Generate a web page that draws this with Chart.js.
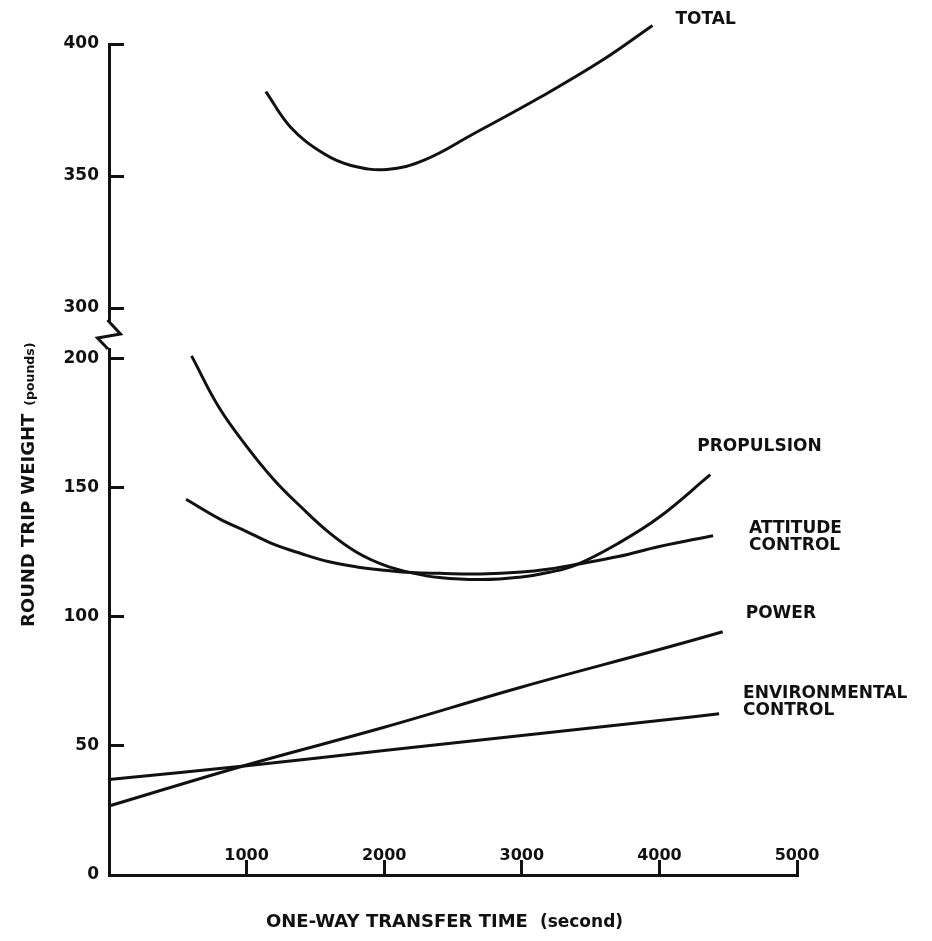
<!DOCTYPE html>
<html>
<head>
<meta charset="utf-8">
<script src="https://cdn.jsdelivr.net/npm/chart.js@4.4.1/dist/chart.umd.min.js"></script>
<style>
  html, body { margin: 0; padding: 0; background: #fff; }
</style>
</head>
<body>
<canvas id="weightChart" width="932" height="941"></canvas>
<script>
// Values (transfer time in seconds, weight in pounds)
const totalTime = [1140, 1320, 1560, 1760, 2020, 2290, 2650, 3140, 3590, 3950];
const totalWeight = [382, 368.5, 358.5, 354, 352.5, 356, 366, 380, 394, 407];

const propulsionTime = [600, 800, 1000, 1200, 1400, 1600, 1800, 2000, 2200, 2400, 2700, 3000, 3200, 3400, 3700, 4000, 4370];
const propulsionWeight = [201, 181, 166, 153, 142.3, 132.6, 125, 120, 117, 115.2, 114.4, 115.4, 117.2, 120.2, 128.4, 138.6, 155];

const attitudeTime = [560, 800, 1000, 1200, 1400, 1600, 1800, 2000, 2200, 2400, 2700, 3000, 3200, 3400, 3700, 4000, 4390];
const attitudeWeight = [145.5, 138, 133, 128, 124.4, 121.3, 119.3, 118, 117.1, 116.8, 116.6, 117.3, 118.5, 120.3, 123.3, 127.2, 131.4];

const powerTime = [0, 1000, 2000, 3000, 4000, 4460];
const powerWeight = [26.7, 42.6, 57.2, 72.8, 87.3, 94.2];

const envTime = [0, 1000, 2000, 3000, 4000, 4434];
const envWeight = [37, 42.3, 48.2, 54, 59.8, 62.4];

// tick labels
const xTicks = [1000, 2000, 3000, 4000, 5000];
const yTicksLower = [0, 50, 100, 150, 200];
const yTicksUpper = [300, 350, 400];

const seriesNames = [['TOTAL'], ['PROPULSION'], ['ATTITUDE', 'CONTROL'], ['POWER'], ['ENVIRONMENTAL', 'CONTROL']];
const xTitle = ['ONE-WAY TRANSFER TIME', '(second)'];
const yTitle = ['ROUND TRIP WEIGHT', '(pounds)'];

const INK = '#111';
const FONT = '"DejaVu Sans", sans-serif';
Chart.defaults.font.family = FONT;
Chart.defaults.color = INK;

function line(xs, ys, axis) {
    return {
        data: xs.map((x, i) => ({ x: x, y: ys[i] })),
        yAxisID: axis,
        borderColor: INK,
        borderWidth: 3,
        pointRadius: 0,
        tension: 0.4,
        fill: false,
        clip: false
    };
}

// where each curve's name sits, relative to the curve's last point
const nameOffsets = [[23, -6], [-13, -28], [36, -7], [23, -18], [24, -20]];

const annotate = {
    id: 'annotate',
    afterDraw(chart) {
        const ctx = chart.ctx;
        const lower = chart.scales.y;
        const joint = lower.top;
        const ax = lower.right - 1.5;

        ctx.save();
        // axis break
        ctx.fillStyle = '#fff';
        ctx.fillRect(ax - 4, joint - 14, 8, 27);
        ctx.strokeStyle = INK;
        ctx.lineWidth = 3;
        ctx.beginPath();
        ctx.moveTo(ax, joint - 15);
        ctx.lineTo(ax + 13, joint - 1);
        ctx.lineTo(ax - 10, joint + 3);
        ctx.lineTo(ax + 0.5, joint + 14);
        ctx.stroke();

        // curve names
        ctx.fillStyle = INK;
        ctx.font = 'bold 17px ' + FONT;
        ctx.textBaseline = 'middle';
        ctx.textAlign = 'left';
        seriesNames.forEach((lines, i) => {
            const pts = chart.getDatasetMeta(i).data;
            const end = pts[pts.length - 1];
            const [dx, dy] = nameOffsets[i];
            lines.forEach((txt, k) => {
                ctx.fillText(txt, end.x + dx, end.y + dy + k * 17);
            });
        });

        // axis titles
        ctx.textBaseline = 'alphabetic';
        ctx.font = 'bold 18px ' + FONT;
        ctx.fillText(xTitle[0], 266, 927);
        let w = ctx.measureText(xTitle[0]).width;
        ctx.font = 'bold 17px ' + FONT;
        ctx.fillText(xTitle[1], 266 + w + 12, 927);

        ctx.translate(34, 627);
        ctx.rotate(-Math.PI / 2);
        ctx.font = 'bold 18px ' + FONT;
        ctx.fillText(yTitle[0], 0, 0);
        w = ctx.measureText(yTitle[0]).width;
        ctx.font = 'bold 12.5px ' + FONT;
        ctx.fillText(yTitle[1], w + 8, 0);
        ctx.restore();
    }
};

const axisLine = { color: INK, width: 3 };
const tickMarks = { drawOnChartArea: false, tickLength: -15, tickWidth: 3, tickColor: INK };
const fixedTicks = values => axis => { axis.ticks = values.map(v => ({ value: v })); };

const ctx = document.getElementById('weightChart').getContext('2d');
const weightChart = new Chart(ctx, {
    type: 'line',
    data: {
        datasets: [
            line(totalTime, totalWeight, 'yTop'),
            line(propulsionTime, propulsionWeight, 'y'),
            line(attitudeTime, attitudeWeight, 'y'),
            line(powerTime, powerWeight, 'y'),
            line(envTime, envWeight, 'y')
        ]
    },
    options: {
        responsive: false,
        animation: false,
        layout: { padding: { top: 44, right: 135, bottom: 0, left: 0 } },
        scales: {
            x: {
                type: 'linear',
                min: 0,
                max: 5000,
                afterBuildTicks: fixedTicks(xTicks),
                afterFit: a => { a.height = 66; },
                ticks: {
                    mirror: true,
                    padding: 10,
                    maxRotation: 0,
                    autoSkip: false,
                    font: { size: 16, weight: 'bold' },
                    callback: v => String(v)
                },
                grid: tickMarks,
                border: axisLine
            },
            y: {
                type: 'linear',
                stack: 'weight',
                stackWeight: 540,
                min: 0,
                max: 209.1,
                afterBuildTicks: fixedTicks(yTicksLower),
                afterFit: a => { a.width = 109; },
                ticks: {
                    padding: 25,
                    font: { size: 17, weight: 'bold' },
                    callback: v => String(v)
                },
                grid: tickMarks,
                border: axisLine
            },
            yTop: {
                type: 'linear',
                position: 'left',
                stack: 'weight',
                stackWeight: 291,
                min: 289.8,
                max: 400,
                afterBuildTicks: fixedTicks(yTicksUpper),
                afterFit: a => { a.width = 109; },
                ticks: {
                    padding: 25,
                    font: { size: 17, weight: 'bold' },
                    callback: v => String(v)
                },
                grid: tickMarks,
                border: axisLine
            }
        },
        plugins: {
            legend: { display: false },
            tooltip: { enabled: false }
        }
    },
    plugins: [annotate]
});
</script>
</body>
</html>
